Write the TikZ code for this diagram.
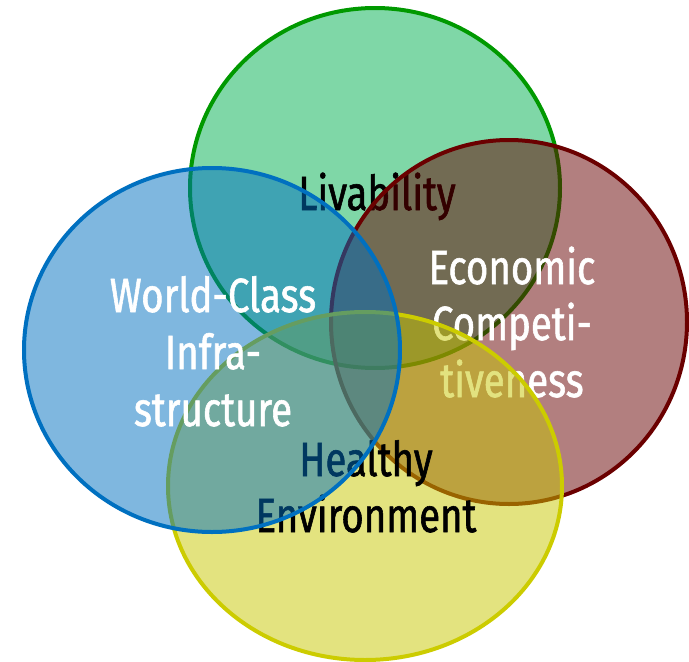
\documentclass[tikz,border=0pt]{standalone}
\usepackage{fontspec}
\setmainfont{Fira Sans}[FakeStretch=0.8, FakeBold=1.2]
\definecolor{gfill}{HTML}{00B050}
\definecolor{gline}{HTML}{009900}
\definecolor{rfill}{HTML}{660000}
\definecolor{rline}{HTML}{6B0000}
\definecolor{yfill}{HTML}{C7C700}
\definecolor{yline}{HTML}{CCCC00}
\definecolor{bfill}{HTML}{0070C0}
\definecolor{bline}{HTML}{0070C0}
\tikzset{
  venn/.style={line width=4pt},
  lbl/.style={anchor=base, inner sep=0pt, font=\fontsize{48}{57}\selectfont},
}
\begin{document}
\begin{tikzpicture}[x=1pt,y=-1pt]
\useasboundingbox (0,0) rectangle (689,662);
% green
\draw[venn, draw=gline, fill=gfill, fill opacity=0.5] (375,188) ellipse [x radius=185pt, y radius=180pt];
\node[lbl, text=black] (liv) at (377,210) {Livability};
% red
\draw[venn, draw=rline, fill=rfill, fill opacity=0.5] (509,322) ellipse [x radius=178pt, y radius=182pt];
\node[lbl, text=white] (eco1) at (512,284) {Economic};
\node[lbl, text=white] (eco2) at (512,340) {Competi-};
\node[lbl, text=white] (eco3) at (512,397) {tiveness};
% yellow
\draw[venn, draw=yline, fill=yfill, fill opacity=0.5] (365,486) ellipse [x radius=197pt, y radius=174pt];
\node[lbl, text=black] (hea1) at (366,476) {Healthy};
\node[lbl, text=black] (hea2) at (366,532) {Environment};
% blue
\draw[venn, draw=bline, fill=bfill, fill opacity=0.5] (212,350) ellipse [x radius=188pt, y radius=182pt];
\node[lbl, text=white] (wc1) at (213,312) {World-Class};
\node[lbl, text=white] (wc2) at (213,369) {Infra-};
\node[lbl, text=white] (wc3) at (213,426) {structure};
\end{tikzpicture}
\end{document}
